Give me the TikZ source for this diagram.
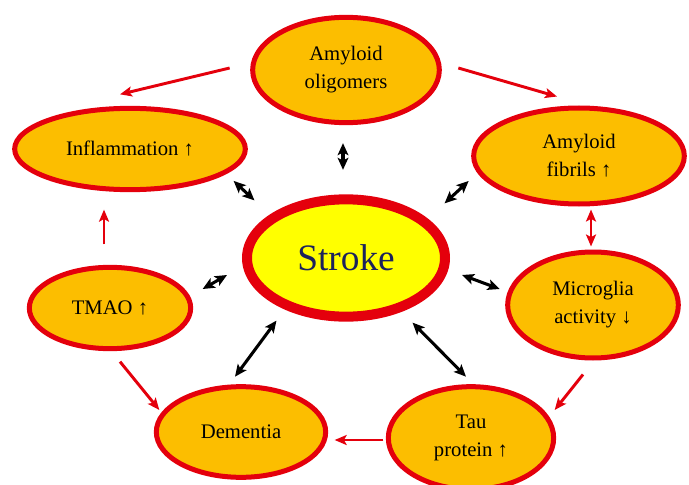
\documentclass[tikz,border=0pt]{standalone}
\usepackage{fontspec}
\setmainfont{Liberation Serif}
\usetikzlibrary{shapes.geometric,arrows.meta,calc}
\definecolor{cellfill}{RGB}{252,190,0}
\definecolor{cellline}{RGB}{228,0,12}
\definecolor{strokefill}{RGB}{255,255,0}
\definecolor{strokefont}{RGB}{28,34,92}

\begin{document}
\begin{tikzpicture}[x=0.75pt, y=-0.75pt,
    every node/.style = {ellipse, draw=cellline, line width=3.75pt,
      fill=cellfill, inner sep=0pt, align=center,
      font=\fontsize{15.5}{21}\selectfont},
    link/.style = {line width=2.3pt, >={Stealth[length=9pt,width=8pt,inset=2pt]}, <->},
    feed/.style = {line width=2.2pt, draw=cellline, >={Stealth[length=9pt,width=7.5pt,inset=2pt]}, ->}]
  \useasboundingbox (0,0) rectangle (689,485);
  \node[fill=strokefill, line width=7.5pt, minimum width=148.5pt, minimum height=88pt,
    text=strokefont, font=\fontsize{28}{32}\selectfont] (stroke) at (346,258) {Stroke};
  \node[minimum width=140pt, minimum height=79pt] (oligo) at (346,70) {Amyloid\\oligomers};
  \node[minimum width=173pt, minimum height=61pt] (infl) at (130,149) {Inflammation ↑};
  \node[minimum width=158pt, minimum height=72pt] (fib) at (579,156) {Amyloid\\fibrils ↑};
  \node[minimum width=128pt, minimum height=79.5pt] (micro) at (593,305) {Microglia\\activity ↓};
  \node[minimum width=124pt, minimum height=77pt] (tau) at (471,438) {Tau\\protein ↑};
  \node[minimum width=127pt, minimum height=68pt] (dem) at (241,432) {Dementia};
  \node[minimum width=121pt, minimum height=61pt] (tmao) at (110,308) {TMAO ↑};

  \draw[feed] ($(oligo.west)+(-20.5,-2)$) -- ($(infl.north)+(-10,-11.5)$);
  \draw[feed] ($(oligo.east)+(16.5,-2)$) -- ($(fib.north)+(-22,-9)$);
  \draw[feed] ($(tmao.north)+(-6,-20.5)$) -- ($(infl.south)+(-26,17.5)$);
  \draw[feed, <->] ($(fib.south)+(12,3)$) -- ($(micro.north)+(-2,-3)$);
  \draw[feed] ($(micro.south)+(-10,14)$) -- ($(tau.east)+(-1.5,-28)$);
  \draw[feed] ($(tau.west)+(-2.5,2)$) -- ($(dem.east)+(6.5,8)$);
  \draw[feed] ($(tmao.south)+(10,10.5)$) -- ($(dem.west)+(5.5,-22)$);

  \draw[link] ($(oligo.south)+(-3,18)$) -- ($(stroke.north)+(-3,-24.5)$);
  \draw[link] ($(infl.south east)+(20.3,1.4)$) -- ($(stroke.north west)+(-18,-12.6)$);
  \draw[link] ($(fib.west)+(-2.5,25)$) -- ($(stroke.north east)+(25,-9.6)$);
  \draw[link] ($(tmao.east)+(9.5,-19)$) -- ($(stroke.west)+(-15,17)$);
  \draw[link] ($(dem.north)+(-6,-7.5)$) -- ($(stroke.south west)+(4,17.6)$);
  \draw[link] ($(stroke.east)+(12,17)$) -- ($(micro.west)+(-5.5,-16)$);
  \draw[link] ($(stroke.south east)+(-7,19.6)$) -- ($(tau.north)+(-5,-7.5)$);
\end{tikzpicture}
\end{document}
